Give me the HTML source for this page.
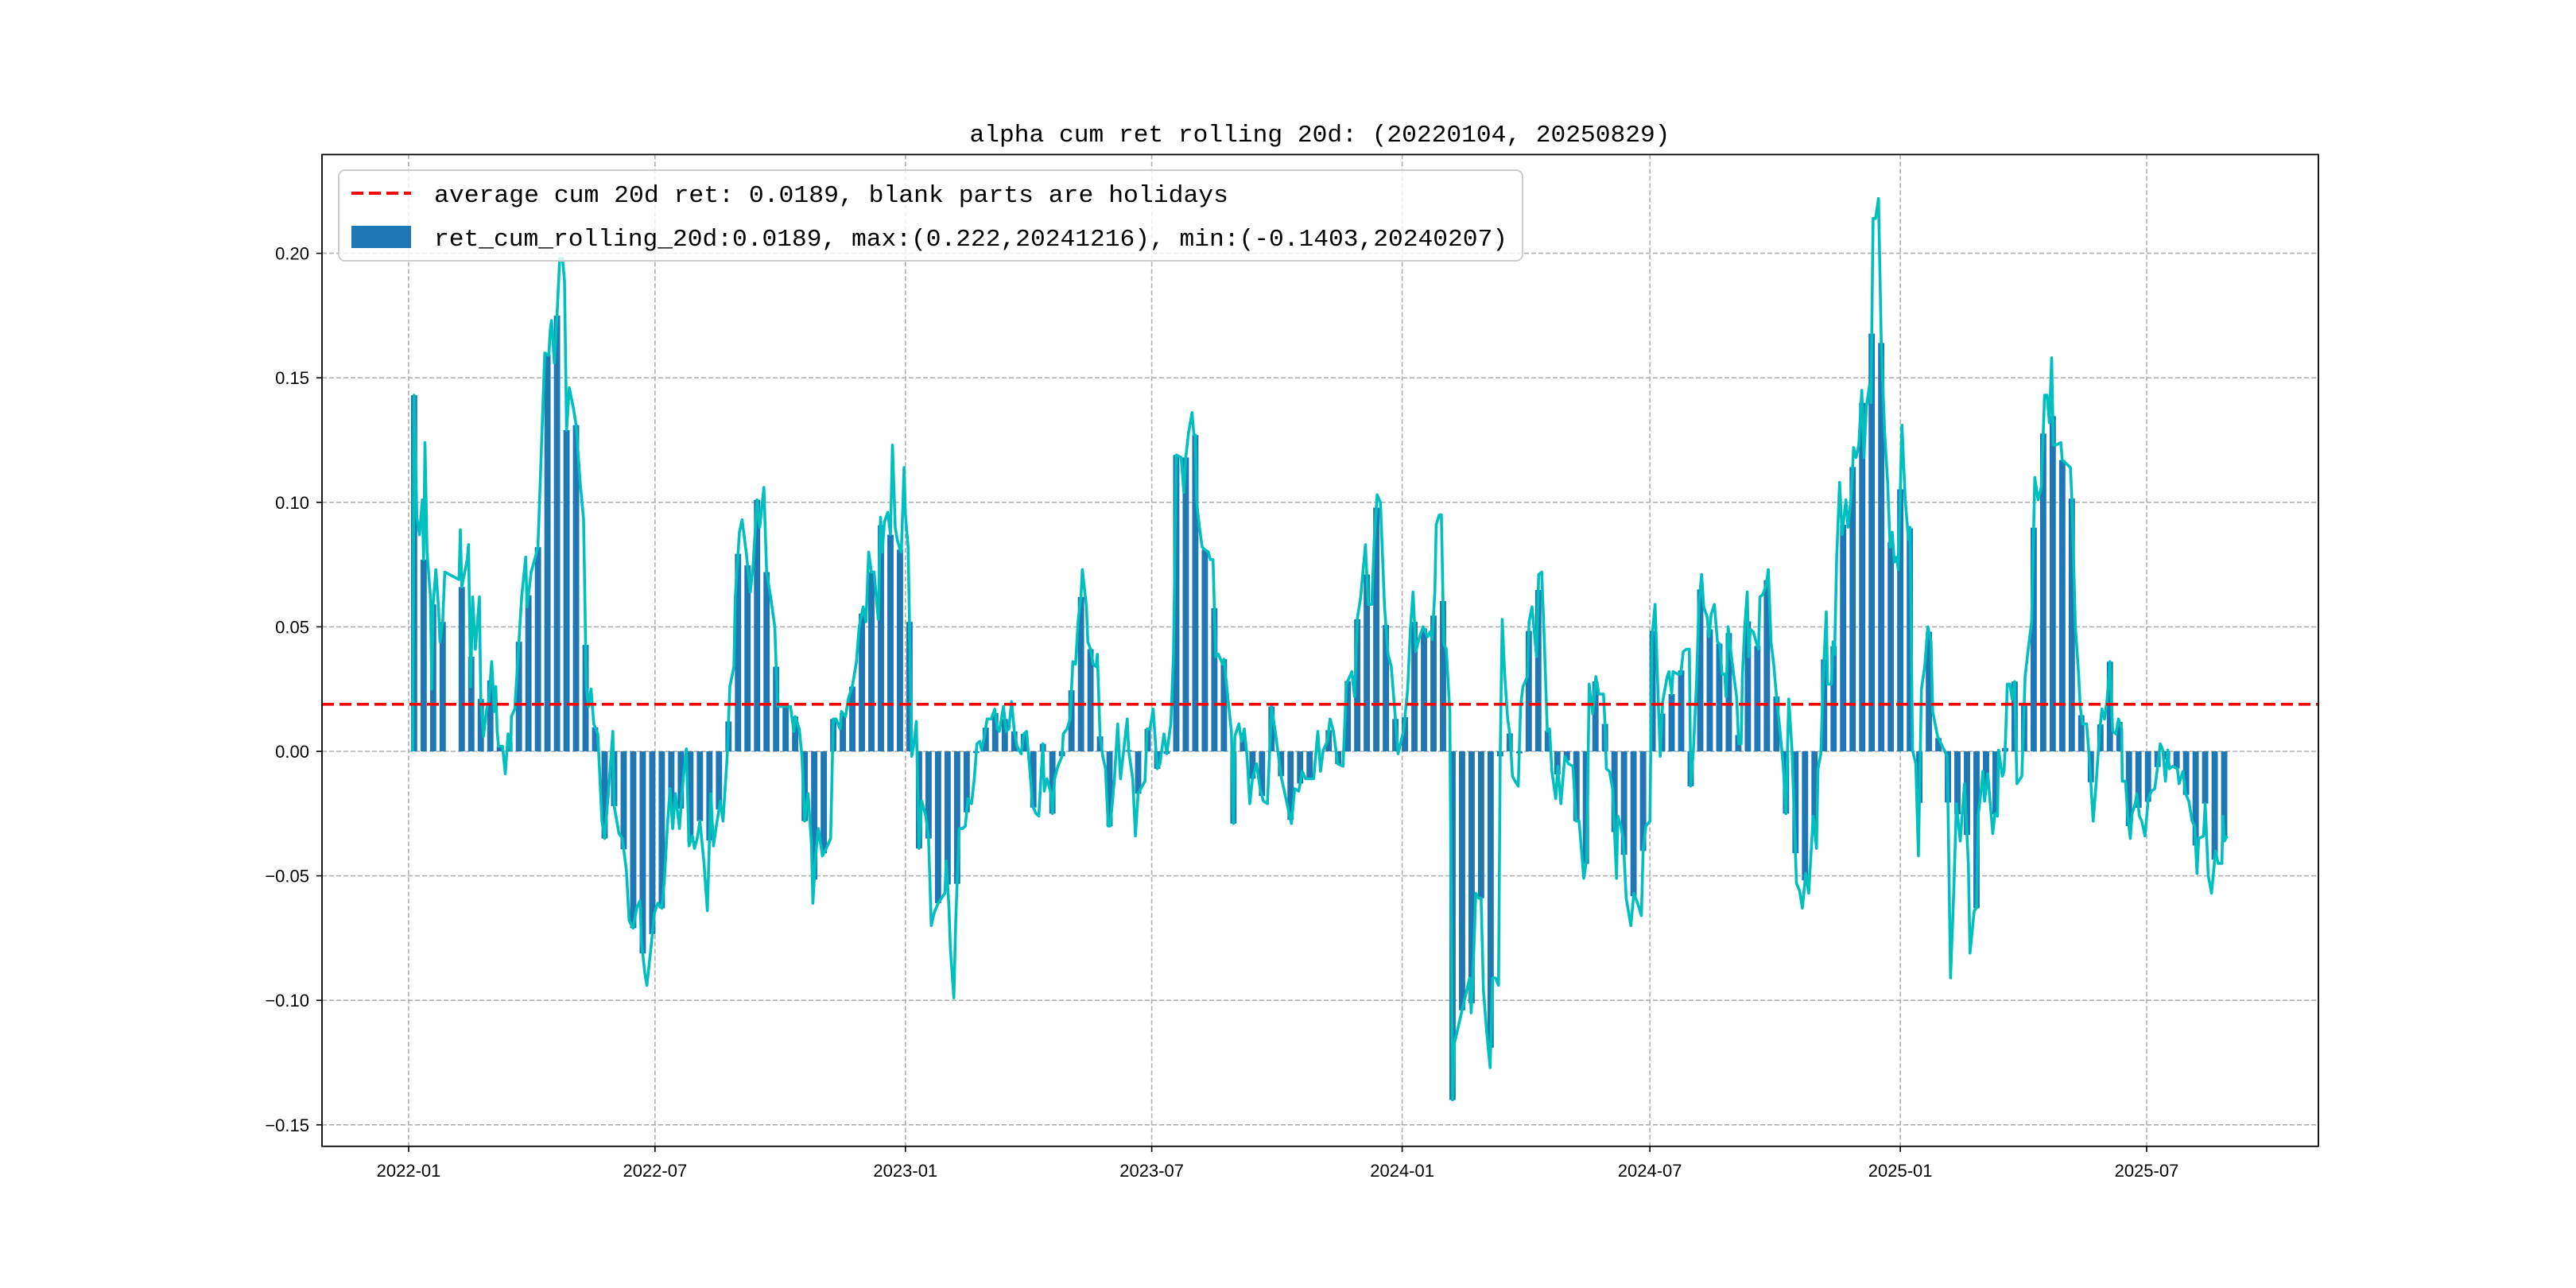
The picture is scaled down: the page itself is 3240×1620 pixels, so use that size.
<!DOCTYPE html>
<html><head><meta charset="utf-8"><style>
html,body{margin:0;padding:0;background:#fff;}
svg{display:block;}
text{font-family:"Liberation Mono","Noto Sans CJK SC",monospace;fill:#000;}
text.tick{font-family:"Liberation Sans","DejaVu Sans",sans-serif;}
</style></head><body>
<svg id="chart" width="3240" height="1620" viewBox="0 0 3240 1620" xmlns="http://www.w3.org/2000/svg">
<rect x="0" y="0" width="3240" height="1620" fill="#fff"/>
<g id="grid"></g>
<g id="bars"></g>
<g id="lines"></g>
<g id="axes"></g>
<text x="1660" y="178" text-anchor="middle" font-size="31" textLength="881" lengthAdjust="spacingAndGlyphs">alpha cum ret rolling 20d: (20220104, 20250829)</text>
<g>
<rect x="426" y="214" width="1489" height="114" rx="8" fill="#fff" fill-opacity="0.8" stroke="#ccc" stroke-width="2"/>
<line x1="442" y1="243" x2="517" y2="243" stroke="#ff0000" stroke-width="4" stroke-dasharray="15,7"/>
<text x="546" y="254" font-size="31" textLength="999" lengthAdjust="spacingAndGlyphs">average cum 20d ret: 0.0189, blank parts are holidays</text>
<rect x="442" y="284" width="75" height="28" fill="#1f77b4"/>
<text x="546" y="309" font-size="31" textLength="1350" lengthAdjust="spacingAndGlyphs">ret_cum_rolling_20d:0.0189, max:(0.222,20241216), min:(-0.1403,20240207)</text>
</g>
</svg>
<script>
// day offsets from 2022-01-01 and rolling 20d cumulative returns
const days = [3,4,6,8,10,11,12,13.5,16,17,18,20,22,23,25,26.5,37,38,39,43,44,45.5,47,49,52,53,55,57,59,61,63,64,65,66,69,71,73,75,75.5,78,81,83,86,87,90,93.5,95,97,100,103,104,105,107,109,111,113,114.5,116,118,121,123,126,128.5,130.5,132,134,136,139,142,144,147,150,151,154.5,157,160,162,165,167.5,170,171,173.5,175,178,180.5,183,186,188,190,192,194,196,199,201,204,206,208.5,210,212,214,217,219.5,222,224,226,229,231,234,236,239,240,243,245,248,251,253,256,258,261,263,266,269,271,274,280.5,283,284,287,289,291,293.5,296,297,299,301,304,306,310,312,314,317,318,321,323,326,329,331,334,336,338,340,
342,345,346.7,348,349.5,352,354,355.5,357.5,359,361,362,364,365,367,368,369.6,371,373,375,377,380,382,384,386,389,394,395,397,398,400.6,402,404.5,407,409,411,413.6,415.6,417.5,419.6,421,423,425,428,430.6,432.5,434,437,439,441,443,445,447,450,452,454,456,458.5,461,463,466,467,469,472,473,474.6,477,480,481,483.7,486,488,490,492,494,495,498,499,501,503,505,506,508,510,512,514,515.5,518.6,521,523,528,529,532,534,536,541,542.6,544.7,547,550,552,555,557,560,562,564,567.6,569.6,571,573,575.6,577,578,579,581,583,585,587.6,589,591,593,595,598,599,602,604.5,606,607,610,612,614,616,618,620,623,625.6,628,631,634,637,641,645,648.6,651,654,656.6,659,662,665,668,670,672,675,677,679.5,682.6,686.5,689,693,695,697,699.5,703,705,707.6,709.5,711.6,714,717,719.6,722,725,727,730,731,734,736,738,740,742.8,745.5,748.6,750.6,
752,754,755,757.3,758.8,760.6,762.4,765,767,768.5,774,779.6,780.7,782.5,784,786.3,788,789.7,792,794.6,796.4,798.6,800.8,802,803.5,805.3,807.5,809.3,811,813,815.3,817,818.7,822,823.2,825.4,828.7,830.3,832.5,834.3,836.6,838.3,840,842.8,844.4,846.6,849.5,852.2,855.5,857.8,860,863.4,865.6,867.4,870,872.3,874.5,877.9,879,880,882.3,884.6,887.5,888.4,890.6,892.4,894.6,898,900.2,903.6,905.8,907,909,912,
913.6,915.8,918,919.6,921.4,924.7,926,928,929,932.5,934.7,936.5,938.8,941,942,944,946.4,948,950,951.6,954,955.5,957,959.4,961.6,963.4,965,967,968,969.5,971.7,974,975.7,977.3,979,980,981.7,983.5,984.6,985.8,988,990,991.8,992.9,995,997.6,999,1001,1003,1005,1007.5,1010,1012,1014,1016.4,1018.6,1019.7,1022,1024,1026.5,1028.7,1032,1034.4,1035.5,1037.6,1039.5,1041.6,1042.6,1045.5,1046.6,1047.7,1049.2,1051.4,1053.2,1056,1057.6,1060,1061.7,1063.5,1065.5,1067.7,1069.3,1071,1073.3,1074.4,1076,1077.8,1080,1082,1084.5,1086.7,1088.5,1090,1091.6,1093.4,1094.5,
1097.2,1099.6,1102,1103.1,1105,1107.4,1109.3,1111.5,1113.9,1116.2,1118.6,1119.8,1123.4,1130.5,1132.9,1135.3,1137.2,1140,1143.2,1146,1147.2,1150.3,1152,1153.2,1155.5,1156.7,1157.9,1160.3,1163.9,1165.5,1167.4,1168.2,1171,1172.2,1173.4,1174.6,1176.5,1178.2,1180,1181.7,1185.3,1187.7,1190,1192.5,1194.8,1197.2,1199.6,1202,1203.9,1205.5,1207.2,1208.4,1210.3,1213.9,1215,1221,1222.2,1224.6,1227,1228.2,1229.8,1232.9,1235.3,1237.7,1240,1242.5,1244.1,1246,1248,1250,1252,1254.4,1256.3,1258.7,1259.1,1261.5,1263.2,1265,1266.3,1268.6,1269.8,1271.7,1273.4,1275.8,1278.2,1280.6,1283,1285.3,1287,1288.9,1290.8,1292.5,1293.7,1296,1299.6,1300.8,1303.7,1305.6,1308,1310.4,1312.3,1314,1315.2,1318.8,1320,1322.3,1324.7,1326.4,1327.6,1329.5,1332.3,1333,1334.2,1336.1];
const vals = [0,.143,.094,.087,.101,.077,.124,.080,.062,.025,.059,.073,.057,.044,.052,.072,.069,.089,.066,.077,.083,.026,.062,.041,.062,.021,.006,.016,.021,.036,.016,.026,.008,.002,.002,-.009,.007,.0005,.014,.017,.044,.062,.078,.058,.072,.079,.082,.113,.160,.159,.169,.173,.156,.175,.198,.198,.189,.129,.146,.138,.131,.108,.093,.026,.018,.025,.011,.007,-.028,-.035,-.015,.008,-.022,-.033,-.035,-.048,-.068,-.071,-.063,-.060,-.076,-.089,-.094,-.079,-.065,-.061,-.063,-.051,-.031,-.015,-.031,-.017,-.031,-.015,.001,-.038,-.034,-.039,-.035,-.028,-.045,-.064,-.017,-.038,-.030,-.020,-.028,-.002,.026,.034,.062,.088,.093,.080,.064,.074,.101,.090,.106,.072,.062,.050,.018,.018,.018,.008,.014,.009,-.002,-.028,-.017,-.038,-.061,-.042,-.031,-.042,-.040,-.035,.013,.013,.009,.016,.014,.021,.026,.036,.050,.058,.052,.080,.072,
.072,.053,.094,.080,.092,.096,.087,.123,.090,.085,.081,.080,.114,.095,.082,.052,-.002,.002,.012,-.039,-.020,-.026,-.035,-.070,-.065,-.061,-.057,-.044,-.063,-.079,-.099,-.068,-.031,-.031,-.030,-.019,-.021,-.011,.003,.004,.0005,.006,.013,.013,.017,.009,.008,.018,.008,.009,.020,.008,.002,-.001,.007,.008,-.005,-.022,-.025,-.026,.003,-.016,-.011,-.017,-.025,-.011,-.006,-.002,.007,.009,.013,.036,.035,.053,.062,.073,.058,.044,.041,.035,.034,.039,.006,-.002,-.007,-.030,-.030,-.011,.011,-.011,.013,.0005,-.011,-.034,-.017,-.012,.009,.009,.017,-.007,-.005,.007,-.001,.011,.039,.119,.118,.104,.118,.128,.136,.127,.127,.100,.090,.082,.081,.080,.077,.077,.038,.039,.035,.037,.021,.008,-.029,.006,.011,.004,.009,-.002,-.021,-.011,-.005,-.015,-.020,-.021,.018,.007,-.010,-.020,-.029,-.015,-.016,-.008,-.011,-.011,-.011,.008,-.008,.0005,.004,.013,.008,-.005,-.006,.027,.032,.022,.053,.062,.083,.059,.059,.085,.103,.100,.058,.039,.034,.013,-.001,.006,.008,.025,.049,.064,.040,.046,.050,.046,.048,
.045,.064,.091,.095,.095,.043,.041,.016,-.140,-.117,-.104,-.091,-.105,-.082,-.057,-.059,-.059,-.096,-.112,-.127,-.091,-.091,-.094,-.002,.053,.031,.013,.006,-.010,-.012,-.014,.018,.026,.030,.052,.058,.038,.071,.072,.046,.008,.009,-.008,-.019,-.006,-.021,-.002,-.005,-.006,-.028,-.028,-.051,-.043,.027,.015,.030,.023,.023,.011,-.007,-.008,-.015,-.051,-.026,-.030,-.035,-.059,-.070,-.057,-.062,-.066,-.040,-.030,-.028,
.046,.059,.023,-.002,.020,.030,.032,.023,.032,.031,.031,.040,.041,.041,-.014,.0005,.029,.059,.071,.058,.054,.046,.055,.059,.044,.043,.031,.031,.022,.050,.039,.029,.022,.003,.003,.031,.050,.064,.038,.049,.048,.044,.041,.062,.063,.067,.073,.044,.035,.022,.009,-.006,-.025,.021,.0005,-.034,-.053,-.056,-.063,-.049,-.057,-.026,-.039,-.007,-.001,.031,.056,.027,.027,.044,.039,.077,.108,.087,.101,.090,.103,.122,.118,.123,.145,.118,.138,.147,.140,.214,.214,.222,.164,.128,.108,.082,.088,.076,.078,.073,
.131,.101,.085,.090,.0005,-.005,-.042,.025,.034,.050,.044,.016,.006,-.002,-.091,-.056,-.021,-.036,-.013,-.045,-.081,-.064,-.063,-.026,-.015,-.008,-.020,-.009,-.033,-.025,-.026,.0005,-.010,-.008,.006,.027,.027,.021,.028,-.013,-.010,.030,.041,.052,.110,.101,.106,.143,.143,.132,.158,.123,.123,.124,.117,.114,.099,.050,.031,.018,.011,.011,-.006,-.028,-.012,.008,.017,.013,.021,.036,.008,.007,.013,.009,-.012,-.012,-.026,-.035,-.025,-.021,-.017,-.026,-.028,-.034,-.019,-.016,-.015,-.005,.003,.0005,-.012,.0005,-.007,-.006,-.007,-.013,-.008,-.017,-.020,-.028,-.030,-.049,-.035,-.034,-.021,-.050,-.057,-.047,-.040,-.045,-.045,-.026,-.036,-.034];
const yTicks = [-0.15,-0.10,-0.05,0.00,0.05,0.10,0.15,0.20];
const yTickLabels = ["\u22120.15","\u22120.10","\u22120.05","0.00","0.05","0.10","0.15","0.20"];
const xTickDates = ["2022-01-01","2022-07-01","2023-01-01","2023-07-01","2024-01-01","2024-07-01","2025-01-01","2025-07-01"];
const xTickLabels = ["2022-01","2022-07","2023-01","2023-07","2024-01","2024-07","2025-01","2025-07"];
const avgRet = [0.0189];

const NS = "http://www.w3.org/2000/svg";
const L = 405, R = 2916, T = 194.4, B = 1441.8;
const xScale = d => 514 + d * 1.7118;
const yScale = v => 945 - v * 3132;
const dayOf = s => (Date.parse(s + "T00:00:00Z") - Date.parse("2022-01-01T00:00:00Z")) / 86400000;
function mk(tag, attrs, parent) {
  const e = document.createElementNS(NS, tag);
  for (const k in attrs) e.setAttribute(k, attrs[k]);
  parent.appendChild(e);
  return e;
}
const grid = document.getElementById("grid"), axes = document.getElementById("axes");
const bars = document.getElementById("bars"), lines = document.getElementById("lines");

yTicks.forEach((t, i) => {
  const y = yScale(t);
  const g = mk("line", {x1: L, x2: R, y1: y, y2: y, stroke: "#b0b0b0", "stroke-width": 1.6, "stroke-dasharray": "6,3"}, grid);
  
  
  const tk = mk("line", {x1: L - 7, x2: L, y1: y, y2: y, stroke: "#000", "stroke-width": 1.6}, axes);
  
  
  const tx = mk("text", {x: L - 16, y: y + 8, "text-anchor": "end", "font-size": 22, "class": "tick"}, axes);
  tx.textContent = yTickLabels[i];
  
  
});
xTickDates.forEach((s, i) => {
  const x = xScale(dayOf(s));
  const g = mk("line", {x1: x, x2: x, y1: T, y2: B, stroke: "#b0b0b0", "stroke-width": 1.6, "stroke-dasharray": "6,3"}, grid);
  
  
  const tk = mk("line", {x1: x, x2: x, y1: B, y2: B + 7, stroke: "#000", "stroke-width": 1.6}, axes);
  
  
  const tx = mk("text", {x: x, y: B + 38, "text-anchor": "middle", "font-size": 22, "class": "tick"}, axes);
  tx.textContent = xTickLabels[i];
  
  
});

// bars: sampled weekly from the series
function interp(d) {
  for (let i = 0; i < days.length - 1; i++) {
    if (d >= days[i] && d <= days[i + 1]) {
      const t = (d - days[i]) / ((days[i + 1] - days[i]) || 1);
      return {v: vals[i] + t * (vals[i + 1] - vals[i]), gap: Math.min(d - days[i], days[i + 1] - d)};
    }
  }
  return null;
}
const bw = 4.6 * 1.7118;
for (let d = days[0] + 1; d <= days[days.length - 1]; d += 7) {
  const r = interp(d);
  if (!r || r.gap > 3.5) continue;
  const y0 = yScale(0), y1 = yScale(r.v);
  const b = mk("rect", {x: xScale(d) - bw / 2, y: Math.min(y0, y1), width: bw, height: Math.abs(y1 - y0), fill: "#1f77b4"}, bars);
  
  
}

const pts = days.map((d, i) => xScale(d).toFixed(1) + "," + yScale(vals[i]).toFixed(1)).join(" ");
const pl = mk("polyline", {points: pts, fill: "none", stroke: "#00bfbf", "stroke-width": 3.6, "stroke-linejoin": "round"}, lines);


const ya = yScale(avgRet[0]);
const al = mk("line", {x1: L, x2: R, y1: ya, y2: ya, stroke: "#ff0000", "stroke-width": 3.6, "stroke-dasharray": "15,7"}, lines);



const fr = mk("rect", {x: L, y: T, width: R - L, height: B - T, fill: "none", stroke: "#000", "stroke-width": 1.8}, axes);


</script>
</body></html>
